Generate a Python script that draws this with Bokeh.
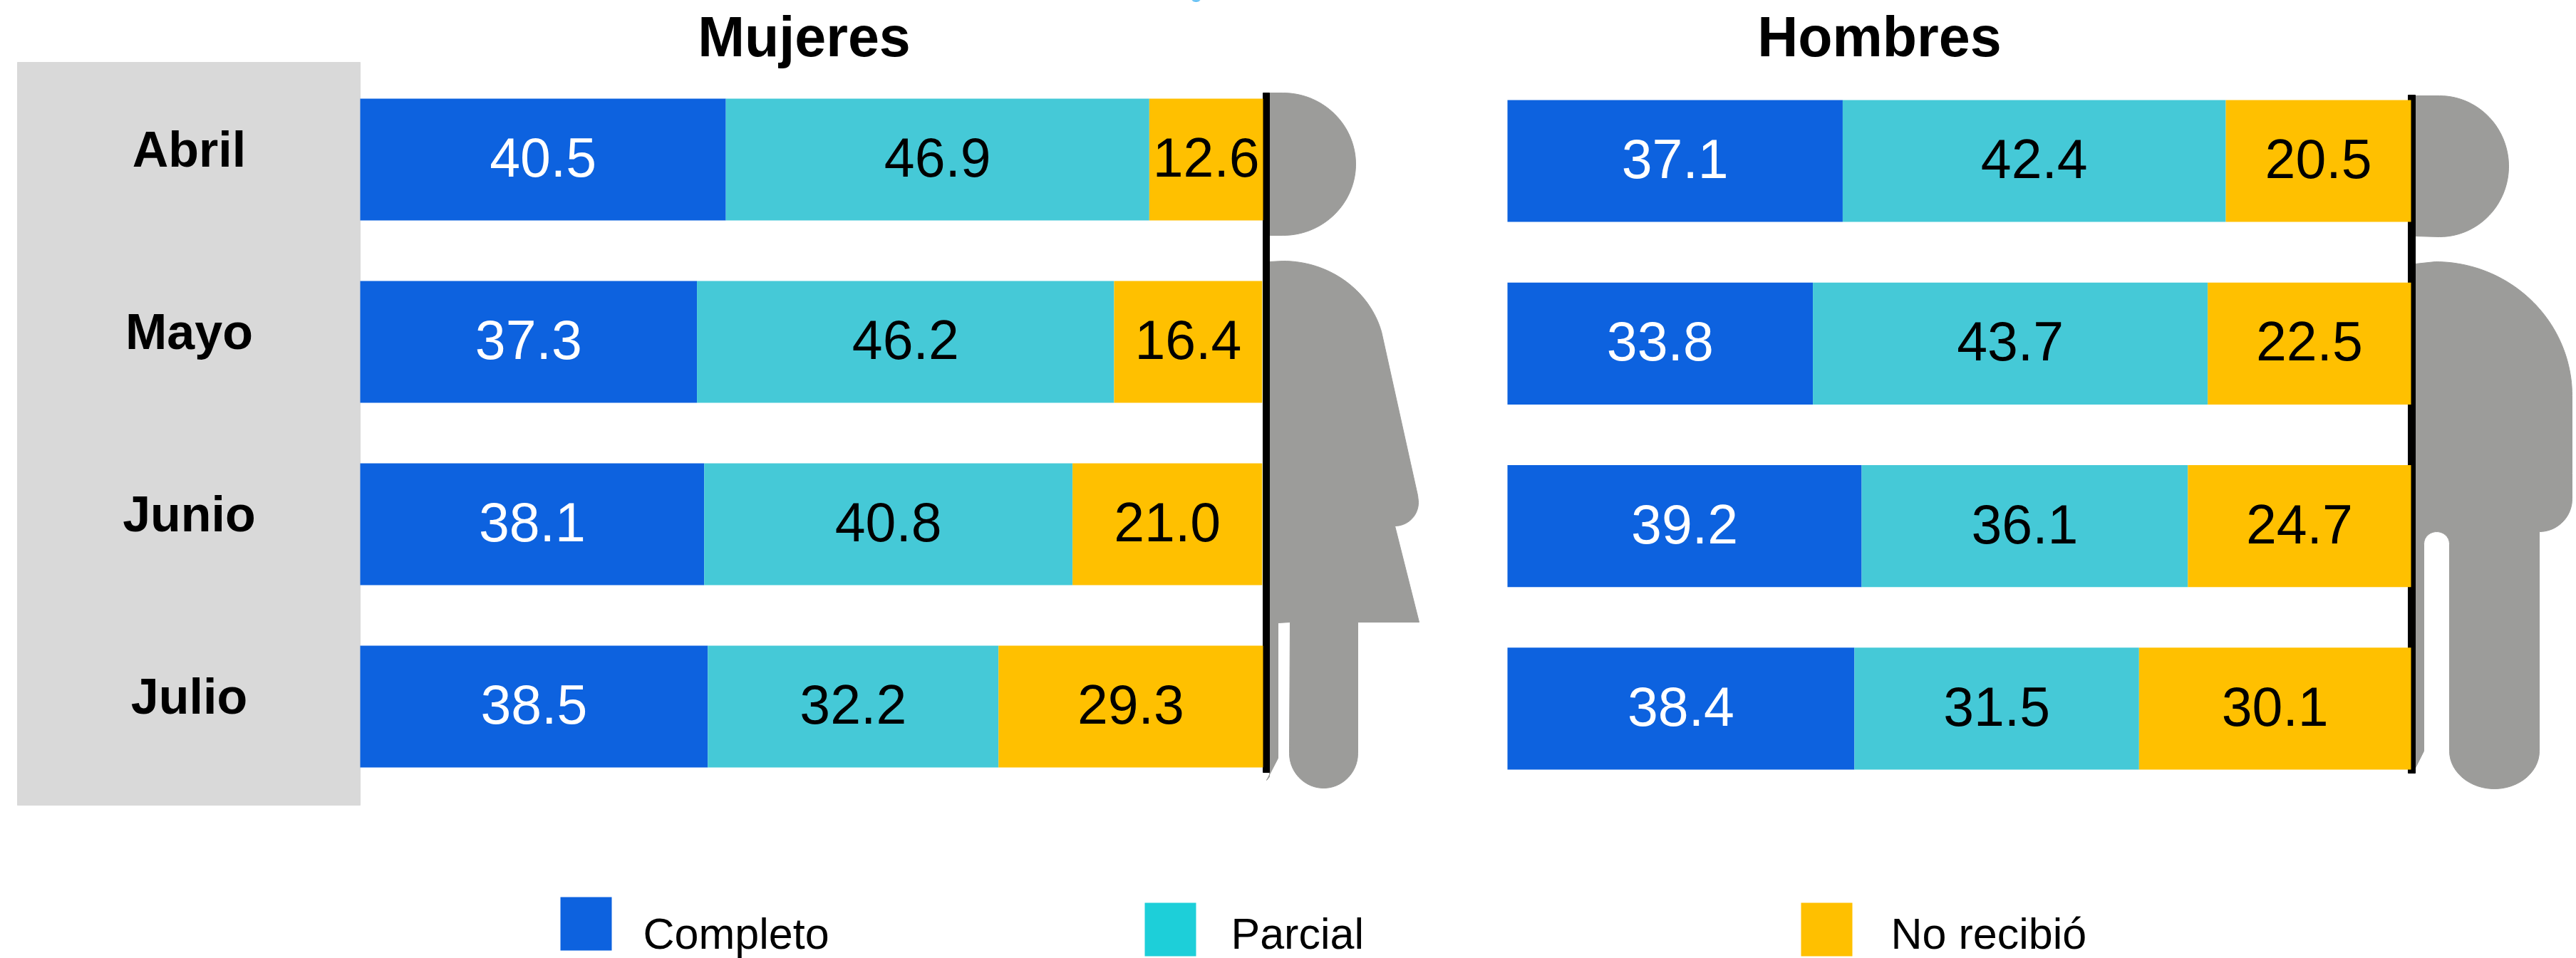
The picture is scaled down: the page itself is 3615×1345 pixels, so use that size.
import numpy as np
from bokeh.core.properties import value
from bokeh.embed import file_html
from bokeh.models import Range1d
from bokeh.plotting import figure
from bokeh.resources import INLINE

months = ["Abril", "Mayo", "Junio", "Julio"]
series = ["Completo", "Parcial", "No recibió"]
mujeres_completo = [40.5, 37.3, 38.1, 38.5]
mujeres_parcial = [46.9, 46.2, 40.8, 32.2]
mujeres_no = [12.6, 16.4, 21.0, 29.3]
hombres_completo = [37.1, 33.8, 39.2, 38.4]
hombres_parcial = [42.4, 43.7, 36.1, 31.5]
hombres_no = [20.5, 22.5, 24.7, 30.1]
titles = ["Mujeres", "Hombres"]

BLUE, TEAL, GOLD = "#0D62DF", "#45C9D7", "#FFC000"
LEGEND_TEAL = "#1DCFD9"
GREY, BOX, FONT = "#9C9C9A", "#D9D9D9", value("Liberation Sans")
W, H = 3615, 1345

p = figure(width=W, height=H, x_range=Range1d(0, W), y_range=Range1d(H, 0),
           output_backend="svg", toolbar_location=None, min_border=0,
           x_axis_location=None, y_axis_location=None, outline_line_color=None,
           margin=(0, 0, 0, 0))
p.grid.visible = False


def x_scale(px0, px100):
    s = (px100 - px0) / 100
    return Range1d(-px0 / s, (W - px0) / s)


def row_scale(first_center, pitch):
    # row index grows downward on the page
    return Range1d((H - first_center) / pitch, -first_center / pitch)


p.extra_x_ranges = {"muj": x_scale(505, 1772), "hom": x_scale(2115, 3383)}
p.extra_y_ranges = {"rm": row_scale(223.5, 256), "rh": row_scale(225.5, 256.3)}

# Month column
p.quad(left=24, right=505, top=87, bottom=1130, color=BOX)


def ell(cx, cy, rx, ry, a0, a1, n=60):
    t = np.radians(np.linspace(a0, a1, n))
    return list(cx + rx * np.cos(t)), list(cy + ry * np.sin(t))


def silhouette(*parts):
    xs, ys = [], []
    for a, b in parts:
        xs += list(a)
        ys += list(b)
    p.patch(xs, ys, color=GREY, line_width=1)


# Woman, right half
silhouette(([1781], [130]), ell(1800, 230, 102, 100, -90, 90), ([1781], [330]))
silhouette(
    ([1781], [367]),
    ell(1800, 500, 143, 134, -90, -15, 40),
    ([1979, 1989], [650, 695]),
    ell(1957, 705, 33, 33, -10, 90, 20),
    ([1991, 1905], [873, 873]),
    ell(1857, 1057, 48, 49, 0, 180, 30),
    ([1810, 1793, 1793, 1777, 1781], [873, 874, 1064, 1095, 1090]),
)

# Man, right half
silhouette(([3389], [134]), ell(3423, 233, 97, 99, -90, 90), ([3389], [331]))
silhouette(
    ([3389], [370]),
    ell(3417, 555, 192, 188, -90, 0, 50),
    ([3609], [664]),
    ell(3563, 700, 46, 46, 0, 90, 20),
    ([3563], [1054]),
    ell(3500, 1054, 63, 53, 0, 180, 30),
    ell(3419, 763, 18, 17, 0, -180, 16),
    ([3401, 3401, 3389], [763, 1054, 1078]),
)

# Vertical lines the bars start from
p.quad(left=1772, right=1781, top=130, bottom=1084, color="black")
p.quad(left=3379, right=3389, top=133, bottom=1085, color="black")


def panel(vals_a, vals_b, vals_c, xr, yr):
    a, b, c = map(np.array, (vals_a, vals_b, vals_c))
    rows = np.arange(len(months))
    stacks = [(np.zeros(len(a)), a, a, BLUE, "white"),
              (a, a + b, b, TEAL, "black"),
              (a + b, a + b + c, c, GOLD, "black")]
    for l, r, v, col, tc in stacks:
        p.hbar(y=rows, left=l, right=r, height=171 / 256, color=col, line_width=0,
               x_range_name=xr, y_range_name=yr)
        p.text(x=(l + r) / 2, y=rows, y_offset=-3, text=[f"{q:.1f}" for q in v],
               text_color=tc, text_font=FONT, text_font_size="77px", text_align="center",
               text_baseline="middle", x_range_name=xr, y_range_name=yr)


panel(mujeres_completo, mujeres_parcial, mujeres_no, "muj", "rm")
panel(hombres_completo, hombres_parcial, hombres_no, "hom", "rh")

# Month labels
p.text(x=[265] * 4, y=list(range(4)), y_offset=-14, text=months, text_font=FONT,
       text_font_size="70px", text_font_style="bold", text_align="center",
       text_baseline="middle", text_color="black", y_range_name="rm")

# Panel titles
p.text(x=[1128, 2637], y=[51, 51], text=titles, text_font=FONT, text_font_size="79px",
       text_font_style="bold", text_align="center", text_baseline="middle",
       text_color="black")

# Legend
p.quad(left=[786, 1606, 2527], right=[858, 1678, 2599], top=[1259, 1267, 1267],
       bottom=[1334, 1342, 1342], fill_color=[BLUE, LEGEND_TEAL, GOLD], line_width=0)
p.text(x=[902, 1727, 2653], y=[1310, 1310, 1310], text=series, text_font=FONT,
       text_font_size="61px", text_baseline="middle", text_color="black")

# Sliver of a mark at the top edge
p.ellipse(x=[1678], y=[-3], width=14, height=9, color="#29A8F0")

open("out.html", "w").write(file_html(p, INLINE))
